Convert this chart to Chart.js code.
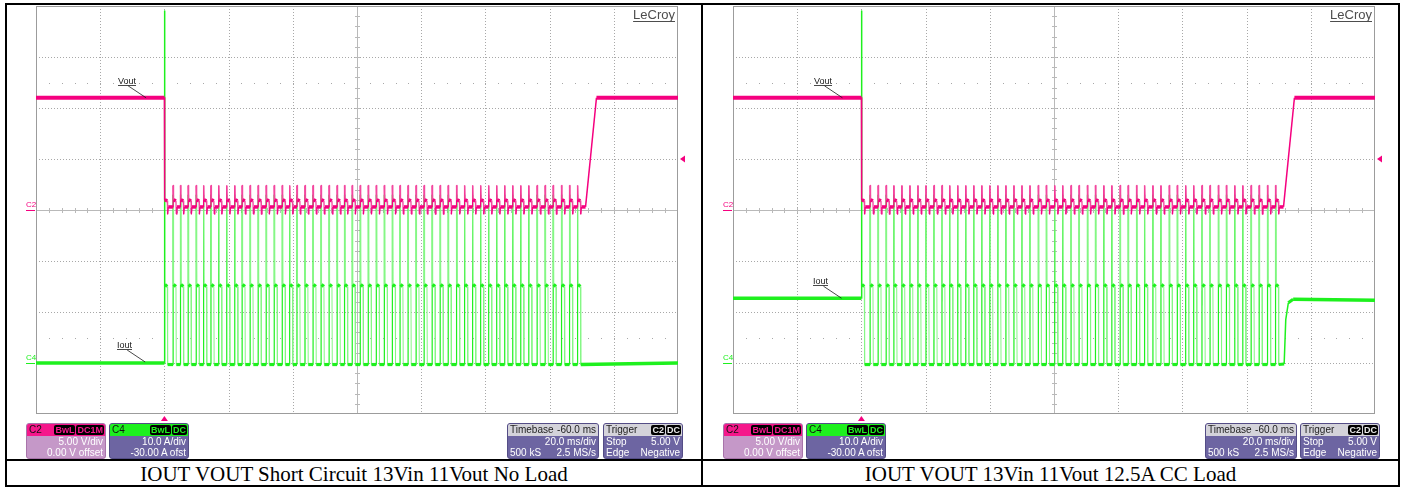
<!DOCTYPE html>
<html lang="en">
<head>
<meta charset="utf-8">
<title>IOUT / VOUT short-circuit captures</title>
<script src="https://cdn.jsdelivr.net/npm/chart.js@4.4.1/dist/chart.umd.min.js"></script>
<style>
  html, body { margin: 0; padding: 0; background: #fff; }
  #page { position: relative; width: 1405px; height: 487px; overflow: hidden; background: #fff;
          font-family: "Liberation Sans", Arial, sans-serif; }
  canvas.scope { position: absolute; }
  .rule { position: absolute; background: #000; }
  .caption { position: absolute; top: 462px; height: 24px; line-height: 24px; text-align: center;
             font-family: "Liberation Serif", "Times New Roman", serif; font-size: 21px; color: #000;
             white-space: nowrap; }
  .box { position: absolute; top: 423px; height: 36px; box-sizing: border-box; border-radius: 3px;
         border: 1px solid #544d86; overflow: hidden; font: 10px/11px "Liberation Sans", Arial, sans-serif;
         color: #fff; background: #6d65a2; }
  .box .hd { height: 12px; display: flex; align-items: center; padding: 0 1px 0 2px; color: #111;
             line-height: 12px; }
  .box .hd .nm { flex: 1; }
  .box .hd .val { margin-left: auto; padding-right: 1px; }
  .box .bd { background: #000; border-radius: 2px; padding: 0 1px; margin-left: 1px; font-size: 9px;
             line-height: 10px; height: 10px; font-weight: bold; }
  .box .rw { height: 11px; display: flex; justify-content: space-between; padding: 0 2px; }
  .box .rw span:only-child { margin-left: auto; }
  .c2 { background: #c598c8; border-color: #a874aa; }
  .c2 .hd { background: #f5178b; }
  .c2 .bd { color: #f5178b; }
  .c4 .hd { background: #1ef01e; }
  .c4 .bd { color: #1ef01e; }
  .tb .hd, .tr .hd { background: #d4d3da; color: #222; }
  .tr .bd { color: #e8e8e8; }
</style>
</head>
<body>
<div id="page">
  <canvas id="scopeNoLoad" class="scope" width="693" height="454" style="left:7px;top:5px;width:693px;height:454px"></canvas>
  <canvas id="scopeCCLoad" class="scope" width="695" height="454" style="left:703px;top:5px;width:695px;height:454px"></canvas>

  <div class="box c2" style="left:26px;width:80px">
    <div class="hd"><span class="nm">C2</span><span class="bd">BwL</span><span class="bd">DC1M</span></div>
    <div class="rw"><span>5.00 V/div</span></div>
    <div class="rw"><span>0.00 V offset</span></div>
  </div>
  <div class="box c4" style="left:109px;width:80px">
    <div class="hd"><span class="nm">C4</span><span class="bd">BwL</span><span class="bd">DC</span></div>
    <div class="rw"><span>10.0 A/div</span></div>
    <div class="rw"><span>-30.00 A ofst</span></div>
  </div>
  <div class="box tb" style="left:507px;width:92px">
    <div class="hd"><span class="nm">Timebase</span><span class="val">-60.0 ms</span></div>
    <div class="rw"><span>20.0 ms/div</span></div>
    <div class="rw"><span>500 kS</span><span>2.5 MS/s</span></div>
  </div>
  <div class="box tr" style="left:603px;width:80px">
    <div class="hd"><span class="nm">Trigger</span><span class="bd">C2</span><span class="bd">DC</span></div>
    <div class="rw"><span>Stop</span><span>5.00 V</span></div>
    <div class="rw"><span>Edge</span><span>Negative</span></div>
  </div>

  <div class="box c2" style="left:723px;width:80px">
    <div class="hd"><span class="nm">C2</span><span class="bd">BwL</span><span class="bd">DC1M</span></div>
    <div class="rw"><span>5.00 V/div</span></div>
    <div class="rw"><span>0.00 V offset</span></div>
  </div>
  <div class="box c4" style="left:806px;width:80px">
    <div class="hd"><span class="nm">C4</span><span class="bd">BwL</span><span class="bd">DC</span></div>
    <div class="rw"><span>10.0 A/div</span></div>
    <div class="rw"><span>-30.00 A ofst</span></div>
  </div>
  <div class="box tb" style="left:1205px;width:92px">
    <div class="hd"><span class="nm">Timebase</span><span class="val">-60.0 ms</span></div>
    <div class="rw"><span>20.0 ms/div</span></div>
    <div class="rw"><span>500 kS</span><span>2.5 MS/s</span></div>
  </div>
  <div class="box tr" style="left:1300px;width:80px">
    <div class="hd"><span class="nm">Trigger</span><span class="bd">C2</span><span class="bd">DC</span></div>
    <div class="rw"><span>Stop</span><span>5.00 V</span></div>
    <div class="rw"><span>Edge</span><span>Negative</span></div>
  </div>

  <!-- table rules -->
  <div class="rule" style="left:5px;top:3px;width:1395px;height:2px"></div>
  <div class="rule" style="left:5px;top:485px;width:1395px;height:2px"></div>
  <div class="rule" style="left:5px;top:3px;width:2px;height:484px"></div>
  <div class="rule" style="left:1398px;top:3px;width:2px;height:484px"></div>
  <div class="rule" style="left:701px;top:3px;width:2px;height:484px"></div>
  <div class="rule" style="left:5px;top:459px;width:1395px;height:2px"></div>

  <div class="caption" id="captionNoLoad" style="left:7px;width:694px"></div>
  <div class="caption" id="captionCCLoad" style="left:703px;width:695px"></div>
</div>

<script>
// ---- screen settings: 20 ms/div with the trigger at 0 ms, C2 5 V/div, C4 10 A/div (-30 A offset) ----
const timeDivisionsMs = [-40, -20, 0, 20, 40, 60, 80, 100, 120, 140, 160];
const voltDivisionsV = [-20, -15, -10, -5, 0, 5, 10, 15, 20];
const ampRangeA = [-10, 70];
const triggerLevelV = 5.0;

const panelTitles = [
  'IOUT VOUT Short Circuit 13Vin 11Vout No Load',
  'IOUT VOUT 13Vin 11Vout 12.5A CC Load'
];

// hiccup pulse onsets (ms after the trigger), panel 0 = no load, panel 1 = 12.5 A CC load
const pulsesNoLoadMs = [
  0.0, 2.7, 5.0, 7.4, 9.9, 12.2, 14.5, 16.9, 19.4, 21.9, 24.2, 26.7, 29.2, 31.7, 34.2, 36.7,
  39.0, 41.3, 43.8, 46.3, 48.8, 51.3, 53.8, 56.1, 58.5, 61.0, 63.5, 66.0, 68.5, 71.0, 73.4,
  75.9, 78.4, 80.9, 83.4, 85.9, 88.4, 91.0, 93.5, 96.0, 98.5, 101.0, 103.5, 106.0, 108.5,
  111.0, 113.5, 116.1, 118.6, 121.1, 123.7, 126.2, 128.7
];
const pulsesCCLoadMs = [
  0.0, 2.7, 5.2, 7.7, 10.1, 12.6, 15.1, 17.6, 20.1, 22.6, 25.1, 27.5, 30.0, 32.5, 35.0, 37.5,
  40.0, 42.5, 45.0, 47.5, 50.0, 52.5, 55.1, 57.6, 60.2, 62.7, 65.3, 67.8, 70.4, 72.9, 75.5,
  78.0, 80.6, 83.1, 85.7, 88.2, 90.8, 93.3, 95.9, 98.4, 101.0, 103.5, 106.1, 108.6, 111.2,
  113.7, 116.3, 118.8, 121.4, 123.9, 126.5, 129.0
];

// steady levels per panel
const voutSettledV = [11.0, 11.0];
const ioutBeforeA = [0.0, 12.7];
const ioutAfterA = [0.0, 12.3];
const turnOnSpikeA = [69, 69];

// Vout recovery ramp after the short is removed: [start ms, end ms]
const voutRecoveryMs = [[131.2, 134.6], [131.5, 134.9]];
// Iout recovery for the loaded case: [ms, A]
const ioutRecovery = [
  [],
  [[131.7, -0.2], [132.2, 8.5], [133.0, 11.8], [134.5, 12.5]]
];

// one hiccup pulse: offsets in ms and the levels it visits
const pulseOffsetsMs = [0.02, 0.15, 0.9, 1.0, 1.2];
const pulseIoutA = [33, 15.4, 15.0, -0.3];      // peak, plateau start, plateau end, off
const pulseVoutV = [2.4, 1.0, 0.9, -0.4, 0.3];  // peak, plateau start, plateau end, dip, rest

const pulseTimesMs = [pulsesNoLoadMs, pulsesCCLoadMs];

const COLORS = {
  vout: '#f5007f', voutEdge: '#f2489f',
  iout: '#1ef01e', ioutEdge: '#86f786',
  grid: '#a8a8a8', axis: '#b9b9b9', frame: '#9c9c9c',
  ink: '#1a1a1a', logo: '#4d4d4d'
};

// ---- traces ----
function voutTrace(p) {
  const t0 = timeDivisionsMs[0], t1 = timeDivisionsMs[timeDivisionsMs.length - 1];
  const [o1, o2, o3, o4, o5] = pulseOffsetsMs;
  const [peak, platA, platB, dip, rest] = pulseVoutV;
  const pts = [{ x: t0, y: voutSettledV[p] }];
  pulseTimesMs[p].forEach((t, k) => {
    pts.push({ x: t, y: k === 0 ? voutSettledV[p] : rest });
    pts.push({ x: t + o1, y: peak });
    pts.push({ x: t + o2, y: platA });
    pts.push({ x: t + o3, y: platB });
    pts.push({ x: t + o4, y: dip });
    pts.push({ x: t + o5, y: rest });
  });
  const [rs, re] = voutRecoveryMs[p];
  pts.push({ x: rs, y: rest });
  pts.push({ x: re, y: voutSettledV[p] });
  pts.push({ x: t1, y: voutSettledV[p] });
  return pts;
}

function ioutTrace(p) {
  const t0 = timeDivisionsMs[0], t1 = timeDivisionsMs[timeDivisionsMs.length - 1];
  const [o1, o2, o3, o4] = pulseOffsetsMs;
  const [peak, platA, platB, off] = pulseIoutA;
  const pts = [{ x: t0, y: ioutBeforeA[p] }];
  pulseTimesMs[p].forEach((t, k) => {
    pts.push({ x: t, y: k === 0 ? ioutBeforeA[p] : off });
    pts.push({ x: t + o1, y: k === 0 ? turnOnSpikeA[p] : peak });
    pts.push({ x: t + o2, y: platA });
    pts.push({ x: t + o3, y: platB });
    pts.push({ x: t + o4, y: off });
  });
  ioutRecovery[p].forEach(([x, y]) => pts.push({ x, y }));
  pts.push({ x: t1, y: ioutAfterA[p] });
  return pts;
}

// Segment look: rising edges solid, falling edges faint, the turn-on step and slow ramps
// solid, dwell levels bright and thick (the long flats thickest).
function segmentKind(c) {
  if (c.p0DataIndex === 1 || c.p0DataIndex === 2) return 'lead';
  const dx = c.p1.x - c.p0.x, dy = Math.abs(c.p1.y - c.p0.y);
  if (dy > 1.6 * dx + 1.2) {
    if (dx >= 1) return 'ramp';
    return c.p1.y < c.p0.y ? 'rise' : 'edge';
  }
  return dx > 30 ? 'flat' : 'dwell';
}
function traceSegment(dark, light, widths) {
  return {
    borderColor: c => segmentKind(c) === 'edge' ? light : dark,
    borderWidth: c => widths[segmentKind(c)]
  };
}

// ---- graticule ----
const scopeScreen = {
  id: 'scopeScreen',
  beforeDatasetsDraw(chart) {
    const { ctx, chartArea: a, scales } = chart;
    const x = scales.x, y = scales.yV;
    const px = v => Math.round(x.getPixelForValue(v)) + 0.5;
    const py = v => Math.round(y.getPixelForValue(v)) + 0.5;
    const line = (x1, y1, x2, y2) => { ctx.beginPath(); ctx.moveTo(x1, y1); ctx.lineTo(x2, y2); ctx.stroke(); };
    const xMid = timeDivisionsMs[5], yMid = voltDivisionsV[4];
    const tStep = (timeDivisionsMs[1] - timeDivisionsMs[0]) / 5;
    const vStep = (voltDivisionsV[1] - voltDivisionsV[0]) / 5;
    const tMin = timeDivisionsMs[0], tMax = timeDivisionsMs[timeDivisionsMs.length - 1];
    const vMin = voltDivisionsV[0], vMax = voltDivisionsV[voltDivisionsV.length - 1];

    ctx.save();
    ctx.lineWidth = 1;
    ctx.strokeStyle = COLORS.grid;
    ctx.setLineDash([1, 2]);
    timeDivisionsMs.slice(1, -1).forEach(t => { if (t !== xMid) line(px(t), a.top, px(t), a.bottom); });
    voltDivisionsV.slice(1, -1).forEach(v => { if (v !== yMid) line(a.left, py(v), a.right, py(v)); });
    ctx.setLineDash([]);

    // sparse dot rows half a division outside the +/-2 division lines
    ctx.fillStyle = COLORS.grid;
    [vMax - 7.5, vMin + 7.5].forEach(v => {
      for (let t = tMin + tStep; t < tMax - 0.01; t += tStep) {
        ctx.fillRect(Math.round(x.getPixelForValue(t)), Math.round(y.getPixelForValue(v)), 1, 1);
      }
    });

    // centre axes with minor ticks
    ctx.strokeStyle = COLORS.axis;
    line(px(xMid), a.top, px(xMid), a.bottom);
    line(a.left, py(yMid), a.right, py(yMid));
    for (let t = tMin + tStep; t < tMax - 0.01; t += tStep) {
      line(px(t), py(yMid) - 2.5, px(t), py(yMid) + 2.5);
    }
    for (let v = vMin + vStep; v < vMax - 0.01; v += vStep) {
      line(px(xMid) - 2.5, py(v), px(xMid) + 2.5, py(v));
    }

    // screen frame
    ctx.strokeStyle = COLORS.frame;
    ctx.strokeRect(a.left + 0.5, a.top + 0.5, a.right - a.left - 1, a.bottom - a.top - 1);
    ctx.restore();
  }
};

// ---- channel markers, trace tags and maker logo ----
const traceTags = [
  [{ text: 'Vout', axis: 'yV', t: -5.7, v: 11.0 }, { text: 'Iout', axis: 'yI', t: -6.0, v: 0.2 }],
  [{ text: 'Vout', axis: 'yV', t: -5.9, v: 11.0 }, { text: 'Iout', axis: 'yI', t: -6.2, v: 12.7 }]
];

const scopeMarks = {
  id: 'scopeMarks',
  afterDatasetsDraw(chart, args, opts) {
    const { ctx, chartArea: a, scales } = chart;
    const x = scales.x;
    const p = opts.panel;
    ctx.save();

    // ground markers
    const ground = (label, scale, color) => {
      const gy = Math.round(scales[scale].getPixelForValue(0)) + 0.5;
      ctx.fillStyle = color; ctx.strokeStyle = color; ctx.lineWidth = 1;
      ctx.font = '8px "Liberation Sans", Arial, sans-serif';
      ctx.textAlign = 'left'; ctx.textBaseline = 'alphabetic';
      ctx.fillText(label, a.left - 10, gy - 4);
      ctx.beginPath(); ctx.moveTo(a.left - 10, gy); ctx.lineTo(a.left - 1, gy); ctx.stroke();
    };
    ground('C2', 'yV', COLORS.vout);
    ground('C4', 'yI', COLORS.iout);

    // trigger position and level arrows
    ctx.fillStyle = COLORS.vout;
    const tx = x.getPixelForValue(0);
    ctx.beginPath();
    ctx.moveTo(tx, a.bottom + 2); ctx.lineTo(tx + 3.5, a.bottom + 7); ctx.lineTo(tx - 3.5, a.bottom + 7);
    ctx.closePath(); ctx.fill();
    const ty = scales.yV.getPixelForValue(triggerLevelV);
    ctx.beginPath();
    ctx.moveTo(a.right + 2, ty); ctx.lineTo(a.right + 7, ty - 3.5); ctx.lineTo(a.right + 7, ty + 3.5);
    ctx.closePath(); ctx.fill();

    // trace tags with leaders
    ctx.font = '9px "Liberation Sans", Arial, sans-serif';
    ctx.fillStyle = COLORS.ink; ctx.strokeStyle = COLORS.ink; ctx.lineWidth = 0.8;
    traceTags[p].forEach(tag => {
      const ex = x.getPixelForValue(tag.t), ey = scales[tag.axis].getPixelForValue(tag.v);
      const lx = Math.round(ex - 28), by = Math.round(ey - 14);
      ctx.fillText(tag.text, lx, by);
      const w = ctx.measureText(tag.text).width;
      ctx.beginPath(); ctx.moveTo(lx, by + 1.5); ctx.lineTo(lx + w, by + 1.5); ctx.stroke();
      ctx.beginPath(); ctx.moveTo(ex - 18, ey - 12); ctx.lineTo(ex, ey); ctx.stroke();
    });

    // logo
    ctx.font = '13px "Liberation Sans", Arial, sans-serif';
    ctx.fillStyle = COLORS.logo; ctx.strokeStyle = COLORS.logo; ctx.lineWidth = 1.2;
    ctx.textAlign = 'right';
    const lw = ctx.measureText('LeCroy').width;
    ctx.fillText('LeCroy', a.right - 3, a.top + 13);
    ctx.beginPath(); ctx.moveTo(a.right - 3 - lw, a.top + 15.5); ctx.lineTo(a.right - 3, a.top + 15.5); ctx.stroke();
    ctx.restore();
  }
};

function makeScope(canvasId, p, padding) {
  return new Chart(document.getElementById(canvasId), {
    type: 'line',
    data: {
      datasets: [
        { label: 'Vout', yAxisID: 'yV', data: voutTrace(p), borderColor: COLORS.vout, borderWidth: 1,
          segment: traceSegment(COLORS.vout, COLORS.voutEdge,
            { lead: 1.5, rise: 1.3, edge: 1.3, ramp: 1.5, dwell: 3.5, flat: 4 }) },
        { label: 'Iout', yAxisID: 'yI', data: ioutTrace(p), borderColor: COLORS.iout, borderWidth: 1,
          segment: traceSegment(COLORS.iout, COLORS.ioutEdge,
            { lead: 1.5, rise: 1.2, edge: 1, ramp: 1.5, dwell: 3.2, flat: 3.5 }) }
      ]
    },
    options: {
      responsive: false, animation: false, devicePixelRatio: 1, events: [],
      layout: { padding },
      elements: { point: { radius: 0 }, line: { tension: 0, borderJoinStyle: 'round', fill: false } },
      scales: {
        x: { type: 'linear', min: timeDivisionsMs[0], max: timeDivisionsMs[timeDivisionsMs.length - 1], display: false },
        yV: { type: 'linear', min: voltDivisionsV[0], max: voltDivisionsV[voltDivisionsV.length - 1], display: false },
        yI: { type: 'linear', min: ampRangeA[0], max: ampRangeA[1], display: false }
      },
      plugins: { legend: { display: false }, tooltip: { enabled: false }, scopeMarks: { panel: p } }
    },
    plugins: [scopeScreen, scopeMarks]
  });
}

makeScope('scopeNoLoad', 0, { left: 29, right: 22, top: 1, bottom: 45 });
makeScope('scopeCCLoad', 1, { left: 30, right: 23, top: 1, bottom: 45 });

document.getElementById('captionNoLoad').textContent = panelTitles[0];
document.getElementById('captionCCLoad').textContent = panelTitles[1];
</script>
</body>
</html>
